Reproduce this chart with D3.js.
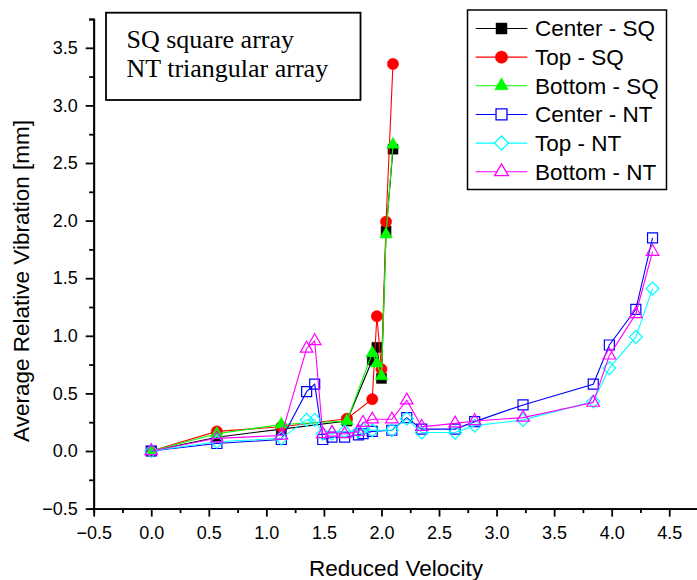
<!DOCTYPE html>
<html>
<head>
<meta charset="utf-8">
<script src="https://cdn.jsdelivr.net/npm/d3@7"></script>
<style>
  body { margin: 0; background: #fff; }
  svg { display: block; font-family: "Liberation Sans", Arial, sans-serif; }
</style>
</head>
<body>
<svg></svg>
<script>
// square array (SQ) runs
const sqX = [0, 0.57, 1.13, 1.70, 1.92, 1.96, 2.00, 2.04, 2.10];
const centerSQ = [0, 0.12, 0.19, 0.26, 0.79, 0.90, 0.63, 1.91, 2.62];
const topSQ = [0, 0.17, 0.21, 0.28, 0.45, 1.17, 0.71, 1.99, 3.36];
const bottomSQ = [0, 0.15, 0.23, 0.26, 0.85, 0.76, 0.65, 1.88, 2.66];

// triangular array (NT) runs
const ntX = [0, 0.57, 1.13, 1.35, 1.42, 1.49, 1.57, 1.68, 1.80, 1.84, 1.92, 2.09, 2.22, 2.35, 2.64, 2.81, 3.23, 3.84, 3.98, 4.21, 4.355];
const centerNT = [0, 0.065, 0.10, 0.515, 0.58, 0.10, 0.12, 0.12, 0.14, 0.15, 0.17, 0.18, 0.29, 0.19, 0.19, 0.255, 0.40, 0.58, 0.92, 1.23, 1.85];
const topNT = [0, 0.08, 0.11, 0.27, 0.27, 0.15, 0.15, 0.17, 0.17, 0.19, 0.18, 0.18, 0.28, 0.16, 0.16, 0.22, 0.27, 0.43, 0.72, 0.99, 1.41];
const bottomNT = [0, 0.11, 0.135, 0.89, 0.955, 0.147, 0.16, 0.147, 0.168, 0.245, 0.275, 0.275, 0.44, 0.21, 0.24, 0.26, 0.29, 0.42, 0.83, 1.19, 1.73];

const seriesNames = ["Center - SQ", "Top - SQ", "Bottom - SQ", "Center - NT", "Top - NT", "Bottom - NT"];
const xTicks = [-0.5, 0, 0.5, 1, 1.5, 2, 2.5, 3, 3.5, 4, 4.5];
const yTicks = [-0.5, 0, 0.5, 1, 1.5, 2, 2.5, 3, 3.5];
const xMinor = [-0.25, 0.25, 0.75, 1.25, 1.75, 2.25, 2.75, 3.25, 3.75, 4.25, 4.75];
const yMinor = [-0.25, 0.25, 0.75, 1.25, 1.75, 2.25, 2.75, 3.25, 3.75];
const noteLines = ["SQ square array", "NT triangular array"];

const width = 697;
const height = 580;
const svg = d3.select("svg").attr("width", width).attr("height", height);

const xScale = d3.scaleLinear().domain([-0.5, 4.75]).range([93.7, 698]);
const yScale = d3.scaleLinear().domain([-0.5, 3.75]).range([508.6, 19]);
const fmt = d3.format(".1f");

// axes
const xAxisG = svg.append("g").attr("transform", `translate(0, ${yScale(-0.5)})`);
xAxisG.call(d3.axisBottom(xScale).tickValues(xMinor).tickSize(4.5).tickFormat(""));
xAxisG.append("g").call(
  d3.axisBottom(xScale).tickValues(xTicks).tickSize(8).tickSizeOuter(0).tickPadding(10).tickFormat(fmt)
);

const yAxisG = svg.append("g").attr("transform", `translate(${xScale(-0.5)}, 0)`);
yAxisG.call(d3.axisLeft(yScale).tickValues(yMinor).tickSize(4.5).tickFormat(""));
yAxisG.append("g").call(
  d3.axisLeft(yScale).tickValues(yTicks).tickSize(8).tickSizeOuter(0).tickPadding(8).tickFormat(fmt)
);

svg.selectAll(".domain, .tick line").attr("stroke", "#000").attr("stroke-width", 1.8);
svg.selectAll(".tick text")
  .attr("fill", "#000")
  .attr("font-size", 18)
  .attr("font-family", "Liberation Sans, Arial, sans-serif");

svg.append("text")
  .attr("x", 396)
  .attr("y", 576)
  .attr("text-anchor", "middle")
  .attr("font-size", 22.5)
  .text("Reduced Velocity");

svg.append("text")
  .attr("transform", "translate(29, 281) rotate(-90)")
  .attr("text-anchor", "middle")
  .attr("font-size", 22.5)
  .text("Average Relative Vibration [mm]");

// series
const series = [
  { name: seriesNames[0], xs: sqX, ys: centerSQ, color: "#000000", shape: d3.symbolSquare, size: 100, fill: true, rot: 0 },
  { name: seriesNames[1], xs: sqX, ys: topSQ, color: "#ff0000", shape: d3.symbolCircle, size: 100, fill: true, rot: 0 },
  { name: seriesNames[2], xs: sqX, ys: bottomSQ, color: "#00ff00", shape: d3.symbolTriangle, size: 68, fill: true, rot: 0 },
  { name: seriesNames[3], xs: ntX, ys: centerNT, color: "#0000ff", shape: d3.symbolSquare, size: 100, fill: false, rot: 0 },
  { name: seriesNames[4], xs: ntX, ys: topNT, color: "#00ffff", shape: d3.symbolSquare, size: 84, fill: false, rot: 45 },
  { name: seriesNames[5], xs: ntX, ys: bottomNT, color: "#ff00ff", shape: d3.symbolTriangle, size: 68, fill: false, rot: 0 },
];

const line = d3.line().x((d) => xScale(d[0])).y((d) => yScale(d[1]));

const plot = svg.append("g");
series.forEach((s) => {
  const pts = s.xs.map((v, i) => [v, s.ys[i]]);
  const g = plot.append("g");
  g.append("path")
    .attr("d", line(pts))
    .attr("fill", "none")
    .attr("stroke", s.color)
    .attr("stroke-width", 1.1);
  g.selectAll("path.mark")
    .data(pts)
    .enter()
    .append("path")
    .attr("class", "mark")
    .attr("d", d3.symbol().type(s.shape).size(s.size))
    .attr("transform", (d) => `translate(${xScale(d[0])}, ${yScale(d[1])}) rotate(${s.rot})`)
    .attr("fill", s.fill ? s.color : "none")
    .attr("stroke", s.color)
    .attr("stroke-width", s.fill ? 0.5 : 1.2);
});

// note box
svg.append("rect")
  .attr("x", 106)
  .attr("y", 12.7)
  .attr("width", 254.5)
  .attr("height", 87.3)
  .attr("fill", "#fff")
  .attr("stroke", "#000")
  .attr("stroke-width", 1.8);

svg.selectAll("text.note")
  .data(noteLines)
  .enter()
  .append("text")
  .attr("class", "note")
  .attr("x", 126.5)
  .attr("y", (d, i) => 47.5 + i * 29)
  .attr("font-family", "Liberation Serif, Times New Roman, serif")
  .attr("font-size", 26)
  .text((d) => d);

// legend
const legend = svg.append("g");
legend.append("rect")
  .attr("x", 467.5)
  .attr("y", 10)
  .attr("width", 199)
  .attr("height", 179.5)
  .attr("fill", "#fff")
  .attr("stroke", "#000")
  .attr("stroke-width", 1.5);

series.forEach((s, i) => {
  const ly = 28.5 + i * 28.65;
  legend.append("line")
    .attr("x1", 475.7)
    .attr("x2", 527.3)
    .attr("y1", ly)
    .attr("y2", ly)
    .attr("stroke", s.color)
    .attr("stroke-width", 1.1);
  legend.append("path")
    .attr("d", d3.symbol().type(s.shape).size(s.size * 1.2))
    .attr("transform", `translate(501.5, ${ly}) rotate(${s.rot})`)
    .attr("fill", s.fill ? s.color : "#fff")
    .attr("stroke", s.color)
    .attr("stroke-width", s.fill ? 0.5 : 1.3);
  legend.append("text")
    .attr("x", 535)
    .attr("y", ly)
    .attr("dy", "0.35em")
    .attr("font-size", 22.5)
    .text(s.name);
});
</script>
</body>
</html>
